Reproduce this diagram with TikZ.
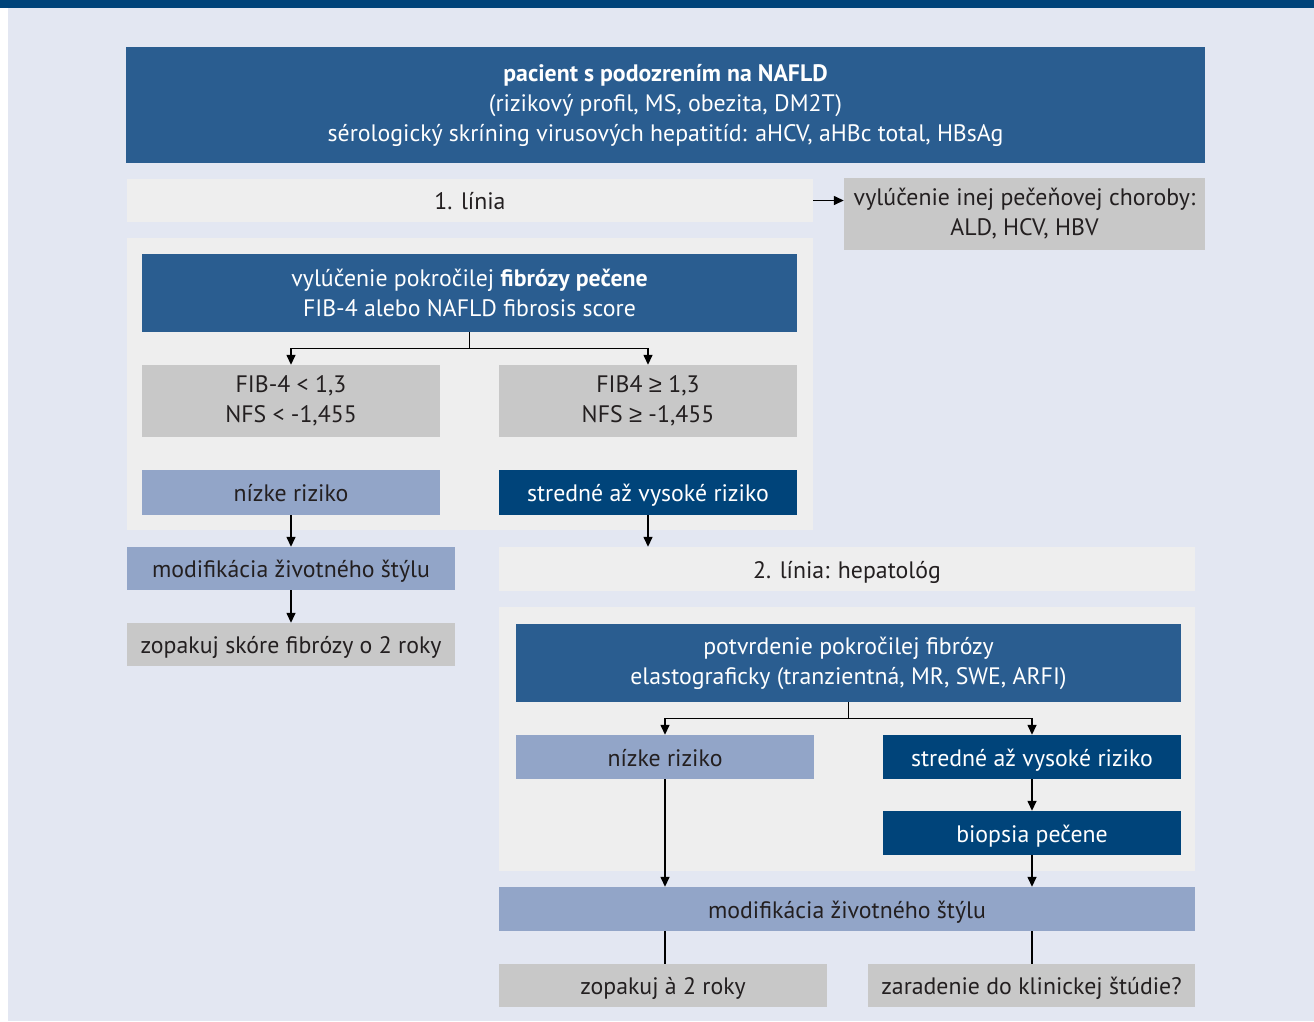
\documentclass[tikz,border=0pt]{standalone}
\usepackage{fontspec}
\setmainfont{PT Sans}
\newfontfamily\symf{Liberation Sans}
\usetikzlibrary{arrows.meta}
\definecolor{bgc}{HTML}{E3E7F2}
\definecolor{barc}{HTML}{00447A}
\definecolor{midb}{HTML}{2A5D90}
\definecolor{darkb}{HTML}{00447A}
\definecolor{lightb}{HTML}{92A5C8}
\definecolor{grayb}{HTML}{C8C8C8}
\definecolor{paleb}{HTML}{EEEEEE}
\definecolor{txt}{HTML}{231F20}
\tikzset{
  box/.style={rectangle, inner sep=0pt, align=center, text=txt,
    font=\fontsize{23.8}{30}\selectfont},
  one/.style={text height=18pt, text depth=0pt},
  bluebox/.style={box, fill=midb, text=white},
  dbox/.style={box, fill=darkb, text=white},
  lbox/.style={box, fill=lightb},
  gbox/.style={box, fill=grayb},
  pbox/.style={box, fill=paleb},
  arr/.style={line width=1.4pt, draw=black, -{Triangle[length=10pt,width=9pt]}},
  ln/.style={line width=1.4pt, draw=black},
}
\begin{document}
\begin{tikzpicture}[x=1pt,y=-1pt]
\useasboundingbox (0,0) rectangle (1314,1021);
\fill[white] (0,0) rectangle (1314,1021);
\fill[bgc] (8,8) rectangle (1314,1021);
\fill[barc] (0,0) rectangle (1314,8);
% panels
\fill[paleb] (127,238) rectangle (813,530);
\fill[paleb] (499,607) rectangle (1195,871);

\node[bluebox, minimum width=1079pt, minimum height=116pt] (top) at (665.5,105)
  {\textbf{pacient s podozrením na NAFLD}\\(rizikový profil, MS, obezita, DM2T)\\sérologický skríning virusových hepatitíd: aHCV, aHBc total, HBsAg};
\node[pbox, one, minimum width=686pt, minimum height=43pt] (l1) at (470,200.5) {1. línia};
\node[gbox, minimum width=361pt, minimum height=72pt] (excl) at (1024.5,214)
  {vylúčenie inej pečeňovej choroby:\\ALD, HCV, HBV};
\node[bluebox, minimum width=655pt, minimum height=78pt] (fib) at (469.5,293)
  {vylúčenie pokročilej \textbf{fibrózy pečene}\\FIB-4 alebo NAFLD fibrosis score};
\node[gbox, minimum width=298pt, minimum height=72pt] (f1) at (291,401)
  {FIB-4 < 1,3\\NFS < -1,455};
\node[gbox, minimum width=298pt, minimum height=72pt] (f2) at (648,401)
  {FIB4 {\symf ≥} 1,3\\NFS {\symf ≥} -1,455};
\node[lbox, one, minimum width=298pt, minimum height=45pt] (n1) at (291,492.5) {nízke riziko};
\node[dbox, one, minimum width=298pt, minimum height=45pt] (s1) at (648,492.5) {stredné až vysoké riziko};
\node[lbox, one, minimum width=328pt, minimum height=43pt] (m1) at (291,568.5) {modifikácia životného štýlu};
\node[gbox, one, minimum width=328pt, minimum height=43pt] (z1) at (291,644.5) {zopakuj skóre fibrózy o 2 roky};
\node[pbox, one, minimum width=696pt, minimum height=44pt] (l2) at (847,569) {2. línia: hepatológ};
\node[bluebox, minimum width=665pt, minimum height=78pt] (pot) at (848.5,663)
  {potvrdenie pokročilej fibrózy\\elastograficky (tranzientná, MR, SWE, ARFI)};
\node[lbox, one, minimum width=298pt, minimum height=44pt] (n2) at (665,757) {nízke riziko};
\node[dbox, one, minimum width=298pt, minimum height=44pt] (s2) at (1032,757) {stredné až vysoké riziko};
\node[dbox, one, minimum width=298pt, minimum height=44pt] (bio) at (1032,833) {biopsia pečene};
\node[lbox, one, minimum width=696pt, minimum height=44pt] (m2) at (847,909) {modifikácia životného štýlu};
\node[gbox, one, minimum width=328pt, minimum height=43pt] (z2) at (663,985.5) {zopakuj à 2 roky};
\node[gbox, one, minimum width=327pt, minimum height=43pt] (zr) at (1031.5,985.5) {zaradenie do klinickej štúdie?};

% connectors
\draw[arr] (l1.east) -- (l1.east -| excl.west);
\draw[ln] (fib.south) -- ++(0,16) coordinate (fj);
\draw[arr] (fj) -| (f1.north);
\draw[arr] (fj) -| (f2.north);
\draw[arr] (n1.south) -- (m1.north);
\draw[arr] (m1.south) -- (z1.north);
\draw[arr] (s1.south) -- (s1.south |- l2.north);
\draw[ln] (pot.south) -- ++(0,16) coordinate (pj);
\draw[arr] (pj) -| (n2.north);
\draw[arr] (pj) -| (s2.north);
\draw[arr] (n2.south) -- (n2.south |- m2.north);
\draw[arr] (s2.south) -- (bio.north);
\draw[arr] (bio.south) -- (bio.south |- m2.north);
\draw[ln] (n2.south |- m2.south) -- (n2.south |- z2.north);
\draw[ln] (bio.south |- m2.south) -- (bio.south |- zr.north);
\end{tikzpicture}
\end{document}
